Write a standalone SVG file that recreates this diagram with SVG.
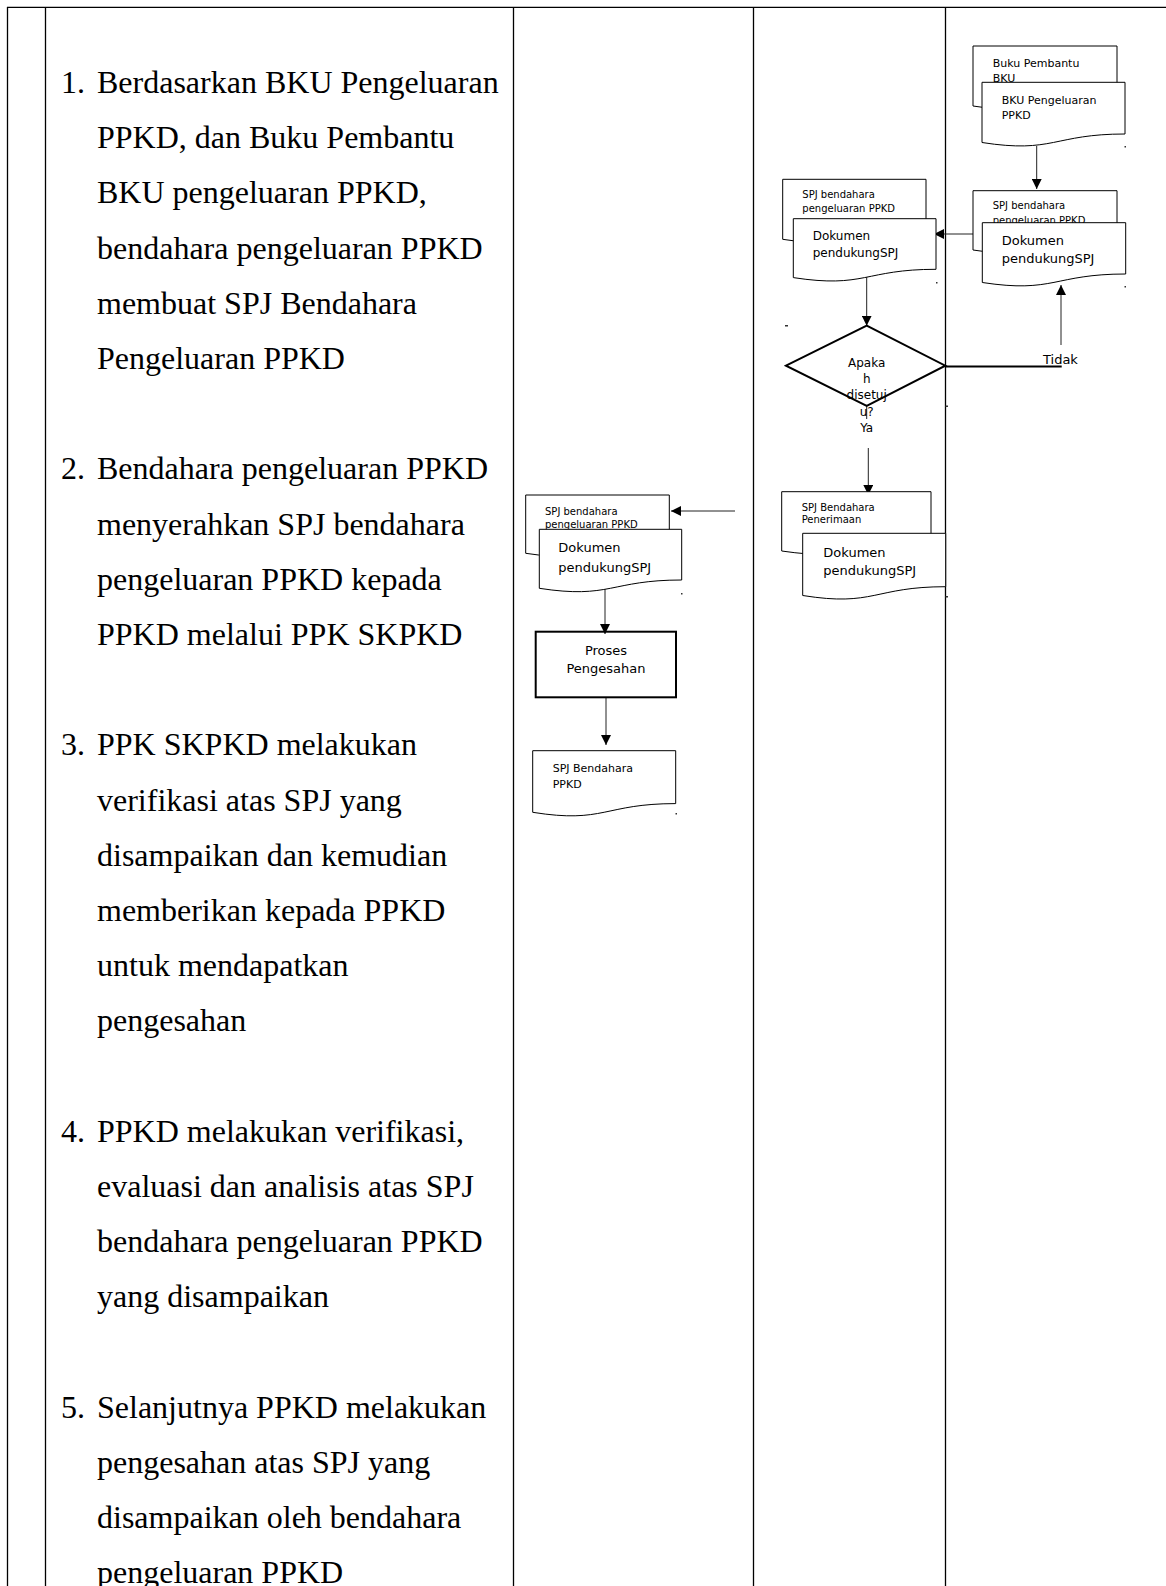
<svg xmlns="http://www.w3.org/2000/svg" width="1166" height="1586" viewBox="0 0 1166 1586">
<style>
.grid{stroke:#000;stroke-width:1.3;fill:none}
.doc{fill:#fff;stroke:#000;stroke-width:1}
.main{font-family:"Liberation Serif","Times New Roman",serif;font-size:32px;fill:#000}
.s10{font-family:"DejaVu Sans",sans-serif;font-size:10px;fill:#000}
.s11{font-family:"DejaVu Sans",sans-serif;font-size:11px;fill:#000}
.s12{font-family:"DejaVu Sans",sans-serif;font-size:12px;fill:#000}
.s13{font-family:"DejaVu Sans",sans-serif;font-size:13px;fill:#000}
.ctr{text-anchor:middle}
.conn{stroke:#222;stroke-width:1;fill:none}
.thick{stroke:#000;stroke-width:2;fill:none}
.mark{fill:#333}
</style>
<defs>
<marker id="ah" markerUnits="userSpaceOnUse" markerWidth="10" markerHeight="10" refX="10" refY="5" orient="auto">
<path d="M0,0 L10,5 L0,10 Z" fill="#000"/>
</marker>
</defs>
<rect x="0" y="0" width="1166" height="1586" fill="#fff"/>

<g id="table">
<path class="grid" d="M7 7.3 H1166"/>
<path class="grid" d="M7.5 7 V1586 M45.5 7 V1586 M513.5 7 V1586 M753.5 7 V1586 M945.5 7 V1586"/>
</g>

<g id="steps" class="main">
<text x="61" y="93">1.</text>
<text x="97" y="93">Berdasarkan BKU Pengeluaran</text>
<text x="97" y="148.2">PPKD, dan Buku Pembantu</text>
<text x="97" y="203.4">BKU pengeluaran PPKD,</text>
<text x="97" y="258.6">bendahara pengeluaran PPKD</text>
<text x="97" y="313.8">membuat SPJ Bendahara</text>
<text x="97" y="369">Pengeluaran PPKD</text>
<text x="61" y="479.4">2.</text>
<text x="97" y="479.4">Bendahara pengeluaran PPKD</text>
<text x="97" y="534.6">menyerahkan SPJ bendahara</text>
<text x="97" y="589.8">pengeluaran PPKD kepada</text>
<text x="97" y="645">PPKD melalui PPK SKPKD</text>
<text x="61" y="755.4">3.</text>
<text x="97" y="755.4">PPK SKPKD melakukan</text>
<text x="97" y="810.6">verifikasi atas SPJ yang</text>
<text x="97" y="865.8">disampaikan dan kemudian</text>
<text x="97" y="921">memberikan kepada PPKD</text>
<text x="97" y="976.2">untuk mendapatkan</text>
<text x="97" y="1031.4">pengesahan</text>
<text x="61" y="1141.8">4.</text>
<text x="97" y="1141.8">PPKD melakukan verifikasi,</text>
<text x="97" y="1197">evaluasi dan analisis atas SPJ</text>
<text x="97" y="1252.2">bendahara pengeluaran PPKD</text>
<text x="97" y="1307.4">yang disampaikan</text>
<text x="61" y="1417.8">5.</text>
<text x="97" y="1417.8">Selanjutnya PPKD melakukan</text>
<text x="97" y="1473">pengesahan atas SPJ yang</text>
<text x="97" y="1528.2">disampaikan oleh bendahara</text>
<text x="97" y="1583.4">pengeluaran PPKD</text>
</g>

<g id="connectors">
<path class="conn" d="M1036.7 146 V189" marker-end="url(#ah)"/>
<path class="conn" d="M973 234 H934" marker-end="url(#ah)"/>
<path class="conn" d="M866.7 271 V325.7" marker-end="url(#ah)"/>
<path class="conn" d="M866.7 406 V419"/>
<path class="conn" d="M868.3 448 V495" marker-end="url(#ah)"/>
<path class="thick" d="M945.7 366.5 H1061.7"/>
<path class="conn" d="M1061 345 V285" marker-end="url(#ah)"/>
<path class="conn" d="M735 511 H671" marker-end="url(#ah)"/>
<path class="conn" d="M605 588 V634" marker-end="url(#ah)"/>
<path class="conn" d="M606 697.3 V745" marker-end="url(#ah)"/>
</g>

<g id="doc-buku-pembantu">
<path class="doc" d="M973 46 H1117 V97.5 C1045 97.5 1045 117.1 973 106 Z"/>
<text class="s11" x="992.7" y="66.7">Buku Pembantu</text>
<text class="s11" x="992.7" y="82">BKU</text>
</g>
<g id="doc-bku-pengeluaran">
<path class="doc" d="M982 82.3 H1125 V134 C1053.5 134 1053.5 153.7 982 142.5 Z"/>
<text class="s11" x="1001.7" y="104">BKU Pengeluaran</text>
<text class="s11" x="1001.7" y="119">PPKD</text>
</g>

<g id="doc-spj-kanan">
<path class="doc" d="M973 190.7 H1117 V241.6 C1045 241.6 1045 261 973 250 Z"/>
<text class="s10" x="992.7" y="209">SPJ bendahara</text>
<text class="s10" x="992.7" y="224">pengeluaran PPKD</text>
</g>
<g id="doc-dokumen-kanan">
<path class="doc" d="M982.3 222.7 H1125.7 V274 C1054 274 1054 293.5 982.3 282.5 Z"/>
<text class="s13" x="1001.7" y="245">Dokumen</text>
<text class="s13" x="1001.7" y="263">pendukungSPJ</text>
</g>

<g id="doc-spj-tengah">
<path class="doc" d="M782.7 179.3 H926 V230.8 C854.3 230.8 854.3 250.4 782.7 239.3 Z"/>
<text class="s10" x="802.3" y="197.7">SPJ bendahara</text>
<text class="s10" x="802.3" y="212.3">pengeluaran PPKD</text>
</g>
<g id="doc-dokumen-tengah">
<path class="doc" d="M793.3 218.7 H936 V269.3 C864.7 269.3 864.7 288.6 793.3 277.6 Z"/>
<text class="s12" x="812.7" y="240">Dokumen</text>
<text class="s12" x="812.7" y="256.7">pendukungSPJ</text>
</g>

<g id="decision">
<path class="thick" d="M786 365.7 L866.7 325.7 L945.3 365.7 L866.7 406 Z" fill="#fff"/>
<text class="s12 ctr" x="866.7" y="367">Apaka</text>
<text class="s12 ctr" x="866.7" y="383">h</text>
<text class="s12 ctr" x="866.7" y="399">disetuj</text>
<text class="s12 ctr" x="866.7" y="416">u?</text>
<text class="s12 ctr" x="866.7" y="432">Ya</text>
</g>
<g id="label-tidak">
<text class="s13" x="1043" y="364">Tidak</text>
</g>

<g id="doc-spj-penerimaan">
<path class="doc" d="M781.7 491.7 H931 V542.6 C856.3 542.6 856.3 562 781.7 551 Z"/>
<text class="s10" x="801.7" y="510.7">SPJ Bendahara</text>
<text class="s10" x="801.7" y="523.3">Penerimaan</text>
</g>
<g id="doc-dokumen-penerimaan">
<path class="doc" d="M802.7 533.3 H945.7 V586.7 C874.2 586.7 874.2 607 802.7 595.5 Z"/>
<text class="s13" x="823.3" y="556.7">Dokumen</text>
<text class="s13" x="823.3" y="575">pendukungSPJ</text>
</g>

<g id="doc-spj-kiri">
<path class="doc" d="M525.7 495 H669.3 V545 C597.5 545 597.5 564 525.7 553.3 Z"/>
<text class="s10" x="545" y="515">SPJ bendahara</text>
<text class="s10" x="545" y="527.7">pengeluaran PPKD</text>
</g>
<g id="doc-dokumen-kiri">
<path class="doc" d="M539.3 529.3 H681.7 V580 C610.5 580 610.5 599.3 539.3 588.3 Z"/>
<text class="s13" x="558.3" y="551.7">Dokumen</text>
<text class="s13" x="558.3" y="571.7">pendukungSPJ</text>
</g>

<g id="process-pengesahan">
<rect class="thick" x="535.7" y="631.7" width="140.3" height="65.6" fill="#fff"/>
<text class="s13 ctr" x="606" y="655">Proses</text>
<text class="s13 ctr" x="606" y="673.3">Pengesahan</text>
</g>

<g id="doc-spj-ppkd">
<path class="doc" d="M532.7 750.7 H675.7 V803.6 C604.2 803.6 604.2 823.8 532.7 812.3 Z"/>
<text class="s11" x="552.7" y="771.7">SPJ Bendahara</text>
<text class="s11" x="552.7" y="788.3">PPKD</text>
</g>

<g id="marks">
<rect class="mark" x="1124.5" y="146" width="1.5" height="1.5"/>
<rect class="mark" x="1124.5" y="286" width="1.5" height="1.5"/>
<rect class="mark" x="936" y="282" width="1.5" height="1.5"/>
<rect class="mark" x="785" y="325" width="3" height="1.5"/>
<rect class="mark" x="945.5" y="405.5" width="2.5" height="1.5"/>
<rect class="mark" x="945.5" y="596" width="2.5" height="1.5"/>
<rect class="mark" x="681" y="593" width="1.5" height="1.5"/>
<rect class="mark" x="675.5" y="813" width="1.5" height="1.5"/>
</g>
</svg>
